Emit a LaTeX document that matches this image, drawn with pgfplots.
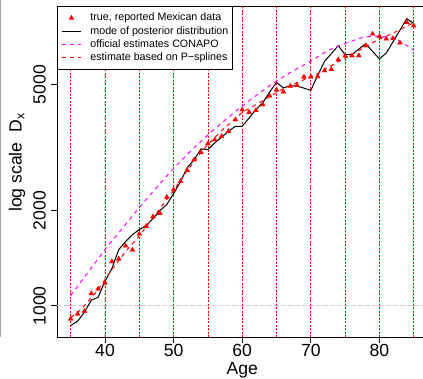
\documentclass[border=0pt]{standalone}
\usepackage{fontspec}
\setmainfont{Liberation Sans}
\usepackage{pgfplots}
\usepackage{pgfplotstable}
\pgfplotsset{compat=1.18}

\definecolor{conapo}{RGB}{255,0,255}
\definecolor{gridgray}{RGB}{211,211,211}

% legend sample for the reported data: a single mark in the middle of the slot
\pgfplotsset{markentry/.style={legend image code/.code={%
    \draw[##1] plot coordinates {(9.5pt,0pt)};}}}

% deaths by age: reported data, posterior mode, P-spline estimate
\pgfplotstableread{
age reported mode pspline
35 910 868 918
36 944 894 953
37 962 955 1002
38 1094 1042 1062
39 1132 1065 1126
40 1182 1196 1211
41 1380 1312 1302
42 1408 1506 1390
43 1547 1596 1484
44 1503 1680 1573
45 1688 1742 1667
46 1784 1793 1780
47 1915 1887 1901
48 1961 2000 2029
49 2206 2089 2167
50 2330 2263 2313
51 2475 2469 2487
52 2681 2735 2675
53 2898 2898 2856
54 3056 3133 3050
55 3256 3117 3233
56 3352 3273 3401
57 3434 3414 3579
58 3561 3561 3739
59 3877 3693 3905
60 4169 3693 4079
61 4088 3920 4200
62 4148 4169 4324
63 4324 4387 4451
64 4606 4735 4582
65 4815 5084 4718
66 4742 4882 4857
67 4946 4964 4964
68 4975 4946 5073
69 5291 4874 5185
70 5291 4797 5299
71 5299 5338 5418
72 5536 5924 5578
73 5588 6266 5741
74 5998 6640 5911
75 6162 6220 6064
76 6175 6220 6220
77 6175 6473 6403
78 6640 6737 6592
79 7230 6371 6786
80 7105 6029 6961
81 6972 6289 7115
82 6997 6836 7272
83 6771 7432 7459
84 7867 8080 7652
85 7680 7793 7849
}\deathdata

% official CONAPO estimates
\pgfplotstableread{
age conapo
35 1078
37.5 1274
40 1506
42.5 1755
45 2044
47.5 2364
50 2715
52.5 3083
55 3464
57.5 3863
60 4277
62.5 4701
65 5129
67.5 5536
70 5933
72.5 6403
75 6737
77.5 7038
80 7115
82.5 6936
85 6426
}\conapodata

\begin{document}
\begin{tikzpicture}
\begin{axis}[
  at={(57pt,41.7pt)}, anchor=south west,
  scale only axis, width=370.4pt, height=331.3pt,
  xmin=33, xmax=87, ymode=log, ymin=796, ymax=8860,
  axis line style={line width=0.9pt},
  xtick={40,50,60,70,80}, ytick={1000,2000,5000},
  yticklabels={1000,2000,5000},
  xtick pos=bottom, ytick pos=left, tick align=outside,
  major tick length=5.5pt, yminorticks=false,
  tick style={line width=0.9pt, black},
  xmajorgrids=true,
  major grid style={gridgray, line width=1.1pt, dash pattern=on 4.5pt off 2.5pt},
  /pgf/number format/assume math mode=true,
  ticklabel style={font=\fontsize{17.6}{20}\selectfont, inner sep=0pt},
  xticklabel style={anchor=north},
  xticklabel shift=1.2pt,
  yticklabel style={rotate=90, anchor=south},
  yticklabel shift=5.5pt,
  xlabel={Age},
  ylabel={log scale\ \ D\textsubscript{x}},
  label style={font=\fontsize{17.6}{20}\selectfont},
  xlabel style={at={(axis description cs:0.5,-0.1117)}, anchor=base},
  ylabel style={at={(axis description cs:-0.0953,0.5276)}, anchor=base},
  legend cell align=left,
  legend style={at={(axis description cs:0,1)}, anchor=north west,
    draw=black, line width=0.8pt, fill=white,
    inner xsep=4pt, inner ysep=5pt, column sep=9pt, row sep=0pt,
    font=\fontsize{10.7}{12}\selectfont,
    nodes={inner sep=0pt, text height=9.6pt, text depth=3.6pt}},
  legend image code/.code={\draw[#1] (0pt,0pt) -- (19pt,0pt);},
]
% horizontal reference line at 1000
\draw[gridgray, line width=1.1pt, dash pattern=on 4.5pt off 2.5pt]
  (axis cs:33,1000) -- (axis cs:87,1000);
% spline knots
\pgfplotsinvokeforeach{35,40,...,85}{
  \draw[red, line width=0.8pt, dash pattern=on 2pt off 1.5pt]
    (axis cs:#1,796) -- (axis cs:#1,8860);
}

\addplot[only marks, mark=triangle*, mark size=2.9pt,
  mark options={fill=red, draw=red, line width=0.2pt}, markentry]
  table[x=age, y=reported] {\deathdata};
\addlegendentry{true, reported Mexican data}

\addplot[black, line width=1pt] table[x=age, y=mode] {\deathdata};
\addlegendentry{mode of posterior distribution}

\addplot[conapo, line width=1pt, dash pattern=on 4pt off 4pt, smooth]
  table[x=age, y=conapo] {\conapodata};
\addlegendentry{official estimates CONAPO}

\addplot[red, line width=1pt, dash pattern=on 4pt off 4pt, smooth]
  table[x=age, y=pspline] {\deathdata};
\addlegendentry{estimate based on P−splines}
\end{axis}
\draw[gray!70, line width=1.1pt] (0.55pt,42pt) -- (0.55pt,379pt);
\pgfresetboundingbox
\useasboundingbox (0,0) rectangle (423pt,379pt);
\end{tikzpicture}
\end{document}
